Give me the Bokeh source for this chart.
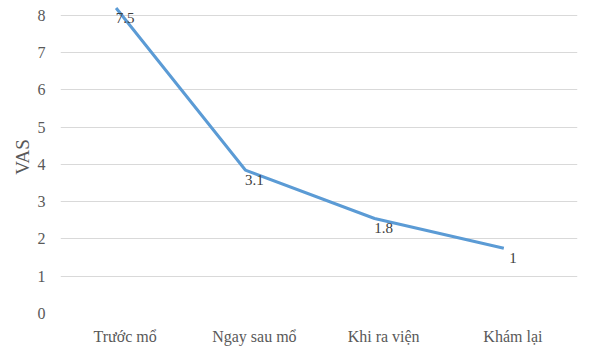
from bokeh.plotting import figure
from bokeh.models import Range1d, FactorRange, ColumnDataSource
from bokeh.transform import dodge
from bokeh.core.properties import value
from bokeh.embed import file_html
from bokeh.resources import INLINE

categories = ["Trước mổ", "Ngay sau mổ", "Khi ra viện", "Khám lại"]
vas_values = [8.2, 3.85, 2.55, 1.75]
data_labels = ["7.5", "3.1", "1.8", "1"]

src = ColumnDataSource(dict(cat=categories, v=vas_values, lab=data_labels))

p = figure(width=600, height=348, x_range=FactorRange(*categories), y_range=Range1d(0, 8.4),
           output_backend="svg", toolbar_location=None,
           min_border_left=60, min_border_right=23, min_border_top=0, min_border_bottom=35)
p.outline_line_color = None
p.background_fill_color = "white"

p.line(x=dodge("cat", -0.07, range=p.x_range), y="v", source=src,
       line_color="#5B9BD5", line_width=3, line_join="round")
p.text(x="cat", y="v", text="lab", source=src, y_offset=10,
       text_font=value("Liberation Serif"), text_font_size="15px", text_color="#404040",
       text_align="center", text_baseline="middle")

p.xgrid.grid_line_color = None
p.ygrid.grid_line_color = "#d9d9d9"
p.yaxis.ticker = list(range(0, 9))
p.yaxis.axis_label = "VAS"
for ax in (p.xaxis[0], p.yaxis[0]):
    ax.axis_line_color = None
    ax.major_tick_line_color = None
    ax.minor_tick_line_color = None
    ax.major_label_text_font = "Liberation Serif"
    ax.major_label_text_font_size = "16px"
    ax.major_label_text_color = "#595959"
p.yaxis.major_label_standoff = 9
p.xaxis.major_label_standoff = 8
p.yaxis.axis_label_text_font = "Liberation Serif"
p.yaxis.axis_label_text_font_size = "19px"
p.yaxis.axis_label_text_font_style = "normal"
p.yaxis.axis_label_text_color = "#595959"
p.yaxis.axis_label_standoff = 2

open("out.html", "w").write(file_html(p, INLINE))
